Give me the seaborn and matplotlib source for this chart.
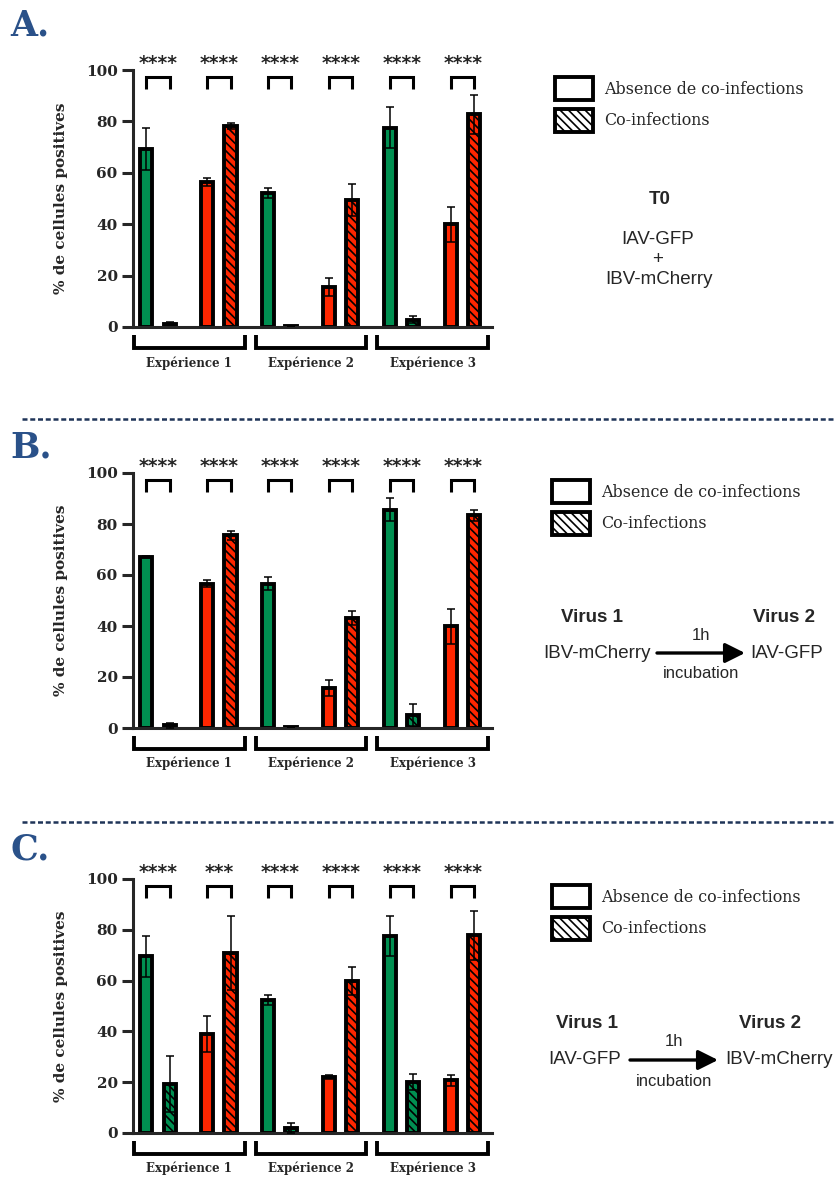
import numpy as np
import pandas as pd
import matplotlib
matplotlib.use("Agg")
import matplotlib.pyplot as plt
import seaborn as sns
from matplotlib.patches import Patch
from matplotlib.lines import Line2D

# ---- data ----
experiments = ["Expérience 1", "Expérience 2", "Expérience 3"]
bar_virus = ["GFP", "GFP", "mCherry", "mCherry"]      # bar order inside one experiment
bar_coinf = [False, True, False, True]

a_means = [69.2, 1.3, 56.5, 78.2, 52.2, 0.2, 15.6, 49.4, 77.5, 2.9, 39.9, 82.7]
a_errs = [8.3, 0.7, 1.5, 1.3, 2.0, 0.0, 3.5, 6.1, 8.0, 1.3, 6.9, 7.6]
a_sig = ["****", "****", "****", "****", "****", "****"]

b_means = [67.1, 1.0, 56.5, 75.6, 56.6, 0.3, 15.7, 43.1, 85.6, 5.0, 39.9, 83.4]
b_errs = [0.2, 1.0, 1.4, 1.8, 2.6, 0.0, 3.3, 2.7, 4.6, 4.4, 6.9, 2.2]
b_sig = ["****", "****", "****", "****", "****", "****"]

c_means = [69.6, 19.3, 39.1, 70.9, 52.5, 2.0, 21.9, 59.7, 77.7, 20.1, 20.7, 77.8]
c_errs = [8.1, 10.9, 7.1, 14.7, 2.0, 1.9, 0.8, 5.5, 7.9, 3.3, 2.0, 9.7]
c_sig = ["****", "***", "****", "****", "****", "****"]

legend_labels = ["Absence de co-infections", "Co-infections"]

colors = {"GFP": "#008F51", "mCherry": "#FF2600"}
navy = "#2A5189"

sns.set_style("ticks")
plt.rcParams["hatch.linewidth"] = 1.2
plt.rcParams["hatch.color"] = "black"

W, H = 836, 1178
fx = lambda px: px / W
fy = lambda py: 1 - py / H

fig = plt.figure(figsize=(W / 100, H / 100), dpi=100)

# axes rectangles in pixels: (left, top, right, bottom)
rects = [(133, 70, 492, 327), (133, 473, 492, 728), (133, 879, 492, 1133)]
panels = [(a_means, a_errs, a_sig), (b_means, b_errs, b_sig), (c_means, c_errs, c_sig)]

# bar positions: one pair per virus per experiment, pairs spaced by 1
pair_off = 0.19
positions, virus, coinf = [], [], []
for e in range(len(experiments)):
    for k in range(4):
        p = 2 * e + k // 2
        positions.append(p + (pair_off if k % 2 else -pair_off))
        virus.append(bar_virus[k])
        coinf.append(bar_coinf[k])

axes = []
for (l, t, r, b), (means, errs, sig) in zip(rects, panels):
    ax = fig.add_axes([fx(l), fy(b), (r - l) / W, (b - t) / H])
    axes.append(ax)
    df = pd.DataFrame({"pos": positions, "value": means, "err": errs,
                       "virus": virus, "coinf": coinf})
    sns.barplot(data=df, x="pos", y="value", hue="virus", palette=colors,
                native_scale=True, dodge=False, width=0.52, saturation=1,
                errorbar=None, edgecolor="black", linewidth=2.8,
                legend=False, ax=ax, zorder=2)
    for patch in ax.patches:
        xc = patch.get_x() + patch.get_width() / 2
        i = int(np.argmin(np.abs(df["pos"].values - xc)))
        if df["coinf"].iloc[i]:
            patch.set_hatch("\\\\\\\\")
    ax.errorbar(df["pos"], df["value"], yerr=df["err"], fmt="none",
                ecolor="black", elinewidth=1.1, capsize=3.2, capthick=1.1, zorder=3)

    ax.set_xlim(-0.41, 5.48)
    ax.set_ylim(0, 100)
    ax.set_xticks([])
    ax.set_xlabel("")
    ax.set_yticks([0, 20, 40, 60, 80, 100])
    ax.tick_params(axis="y", length=8, width=2.2, pad=3)
    for lab in ax.get_yticklabels():
        lab.set_fontfamily("DejaVu Serif")
        lab.set_fontweight("bold")
        lab.set_fontsize(11)
    sns.despine(ax=ax)
    for s in ["left", "bottom"]:
        ax.spines[s].set_linewidth(2.2)
    ax.set_ylabel("% de cellules positives", fontsize=11, fontweight="bold",
                  family="DejaVu Serif")
    ax.yaxis.set_label_coords(-0.18, 0.5)

    # significance brackets
    for p, s in enumerate(sig):
        x0, x1 = p - pair_off, p + pair_off
        ax.plot([x0, x0, x1, x1], [92.6, 97.3, 97.3, 92.6], color="black",
                lw=2.2, clip_on=False, solid_capstyle="butt", solid_joinstyle="miter")
        ax.text(p, 100.2, s, ha="center", va="baseline", fontsize=13.5,
                fontweight="heavy", family="DejaVu Sans", clip_on=False)

    # experiment brackets under the axis
    for e, name in enumerate(experiments):
        x0, x1 = 2 * e - 0.40, 2 * e + 1.42
        ax.plot([x0, x0, x1, x1], [-3.1, -8.2, -8.2, -3.1], color="black",
                lw=2.8, clip_on=False, solid_capstyle="butt", solid_joinstyle="miter")
        ax.text((x0 + x1) / 2, -14, name, ha="center", va="center", fontsize=8.5,
                fontweight="bold", family="DejaVu Serif", clip_on=False)

# panel letters
for letter, base in zip(["A.", "B.", "C."], [35, 457, 859]):
    fig.text(fx(10), fy(base), letter, ha="left", va="baseline", fontsize=25,
             fontweight="bold", family="DejaVu Serif", color=navy)

# dashed separators
for yy in [419, 822]:
    fig.add_artist(Line2D([fx(22), fx(836)], [fy(yy), fy(yy)], color="#1F3458",
                          lw=1.8, linestyle=(0, (2.0, 1.1)), transform=fig.transFigure))

# legends
handles = [Patch(facecolor="white", edgecolor="black", linewidth=2.8),
           Patch(facecolor="white", edgecolor="black", linewidth=2.8, hatch="\\\\\\\\")]
for lx, ly in [(555, 77), (552, 480), (552, 885)]:
    fig.legend(handles, legend_labels, loc="upper left",
               bbox_to_anchor=(fx(lx), fy(ly)), bbox_transform=fig.transFigure,
               frameon=False, borderpad=0, borderaxespad=0, handlelength=2.4,
               handleheight=1.86, handletextpad=0.7, labelspacing=0.55,
               prop={"family": "DejaVu Serif", "size": 11.4})

sans = "Liberation Sans"
# panel A annotation
fig.text(fx(660), fy(199), "T0", ha="center", va="center", fontsize=13.5,
         fontweight="bold", family=sans)
fig.text(fx(658), fy(240), "IAV-GFP", ha="center", va="center", fontsize=13.5, family=sans)
fig.text(fx(658), fy(259), "+", ha="center", va="center", fontsize=13.5, family=sans)
fig.text(fx(659), fy(280), "IBV-mCherry", ha="center", va="center", fontsize=13.5, family=sans)


def sequence(ax, v1, v2, xv1, xv2, ytitle, x1, ya, xa0, xa1, x2):
    fig.text(fx(xv1), fy(ytitle), "Virus 1", ha="center", va="center", fontsize=13.5,
             fontweight="bold", family=sans)
    fig.text(fx(xv2), fy(ytitle), "Virus 2", ha="center", va="center", fontsize=13.5,
             fontweight="bold", family=sans)
    fig.text(fx(x1), fy(ya), v1, ha="left", va="center", fontsize=13.5, family=sans)
    fig.text(fx(x2), fy(ya), v2, ha="left", va="center", fontsize=13.5, family=sans)
    ax.annotate("", xy=(fx(xa1), fy(ya)), xytext=(fx(xa0), fy(ya)),
                xycoords="figure fraction", textcoords="figure fraction",
                annotation_clip=False,
                arrowprops=dict(arrowstyle="-|>,head_length=0.6,head_width=0.3",
                                lw=2.4, color="black", mutation_scale=20,
                                shrinkA=0, shrinkB=0))
    xm = (xa0 + xa1) / 2
    fig.text(fx(xm), fy(ya - 18), "1h", ha="center", va="center", fontsize=12, family=sans)
    fig.text(fx(xm), fy(ya + 21), "incubation", ha="center", va="center", fontsize=12,
             family=sans)


sequence(axes[1], "IBV-mCherry", "IAV-GFP", 592, 784, 618, 543, 653, 657, 745, 750)
sequence(axes[2], "IAV-GFP", "IBV-mCherry", 587, 770, 1023, 548, 1060, 630, 718, 725)

fig.savefig("out.png", dpi=100, facecolor="white")
